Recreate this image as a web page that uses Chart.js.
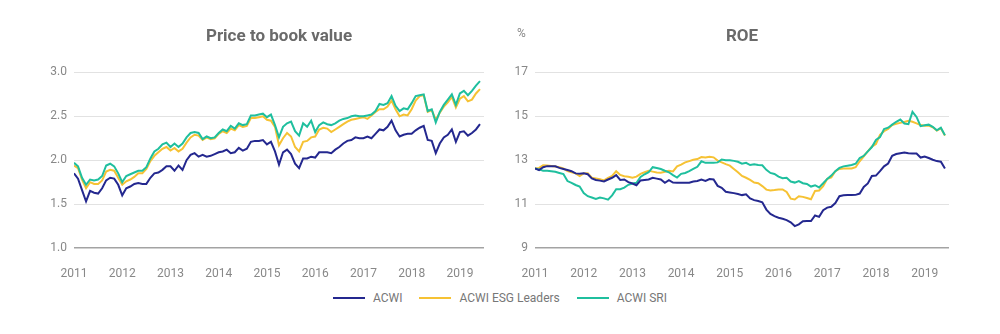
<!DOCTYPE html>
<html>
<head>
<meta charset="utf-8">
<script src="https://cdn.jsdelivr.net/npm/chart.js@4/dist/chart.umd.min.js"></script>
<style>
  body { margin: 0; background: #fff; font-family: Roboto, sans-serif; }
  #wrap { position: relative; width: 1000px; height: 334px; }
  canvas { position: absolute; top: 0; }
  #pb { left: 0; }
  #roe { left: 500px; }
  #pct { position: absolute; left: 517px; top: 26px; font-size: 12px; color: #888; }
  #legend { position: absolute; left: 0; width: 1000px; top: 291px; display: flex; justify-content: center; gap: 17px; font-size: 12px; color: #777; }
  #legend span.item { display: flex; align-items: center; }
  #legend i { display: inline-block; width: 32px; height: 2px; margin-right: 8px; }
</style>
</head>
<body>
<div id="wrap">
  <canvas id="pb" width="500" height="290"></canvas>
  <canvas id="roe" width="500" height="290"></canvas>
  <div id="pct">%</div>
  <div id="legend"></div>
</div>
<script>
// monthly, Jan 2011 - Jun 2019
const years = [2011, 2012, 2013, 2014, 2015, 2016, 2017, 2018, 2019];
const seriesNames = ['ACWI', 'ACWI ESG Leaders', 'ACWI SRI'];
const seriesColors = ['#24288f', '#f6c234', '#1fbf9e'];

const pbAcwi = [
  1.85, 1.79, 1.66, 1.53, 1.65, 1.63, 1.62, 1.68, 1.77, 1.80,
  1.79, 1.72, 1.60, 1.68, 1.70, 1.73, 1.74, 1.73, 1.73, 1.80,
  1.85, 1.86, 1.89, 1.93, 1.93, 1.88, 1.94, 1.89, 2.00, 2.06,
  2.08, 2.04, 2.06, 2.04, 2.05, 2.07, 2.09, 2.10, 2.12, 2.08,
  2.09, 2.14, 2.11, 2.13, 2.21, 2.22, 2.22, 2.23, 2.18, 2.21,
  2.10, 1.95, 2.09, 2.12, 2.07, 1.96, 1.91, 2.02, 2.02, 2.04,
  2.03, 2.09, 2.09, 2.09, 2.08, 2.12, 2.15, 2.19, 2.22, 2.23,
  2.26, 2.25, 2.25, 2.27, 2.25, 2.30, 2.35, 2.34, 2.38, 2.45,
  2.34, 2.27, 2.29, 2.30, 2.30, 2.34, 2.37, 2.39, 2.23, 2.22,
  2.08, 2.19, 2.26, 2.29, 2.35, 2.21, 2.32, 2.33, 2.28, 2.31,
  2.35, 2.41
];
const pbEsg = [
  1.94, 1.91, 1.78, 1.68, 1.75, 1.73, 1.73, 1.77, 1.87, 1.89,
  1.88, 1.80, 1.72, 1.76, 1.78, 1.81, 1.85, 1.85, 1.90, 1.99,
  2.05, 2.09, 2.13, 2.15, 2.11, 2.14, 2.10, 2.13, 2.20, 2.26,
  2.29, 2.28, 2.23, 2.26, 2.24, 2.25, 2.30, 2.33, 2.31, 2.36,
  2.34, 2.40, 2.38, 2.39, 2.48, 2.48, 2.49, 2.50, 2.46, 2.45,
  2.38, 2.17, 2.25, 2.31, 2.27, 2.15, 2.10, 2.21, 2.22, 2.26,
  2.27, 2.35, 2.37, 2.36, 2.32, 2.35, 2.38, 2.41, 2.44, 2.46,
  2.47, 2.48, 2.49, 2.47, 2.51, 2.55, 2.58, 2.58, 2.61, 2.68,
  2.58, 2.50, 2.52, 2.51, 2.58, 2.68, 2.73, 2.74, 2.55, 2.57,
  2.46, 2.54, 2.61, 2.66, 2.72, 2.60, 2.70, 2.73, 2.67, 2.69,
  2.76, 2.81
];
const pbSri = [
  1.97, 1.93, 1.80, 1.72, 1.78, 1.77, 1.78, 1.82, 1.94, 1.96,
  1.93, 1.85, 1.75, 1.82, 1.84, 1.86, 1.88, 1.88, 1.92, 2.02,
  2.10, 2.13, 2.18, 2.20, 2.15, 2.19, 2.15, 2.19, 2.26, 2.31,
  2.32, 2.31, 2.24, 2.27, 2.25, 2.26, 2.31, 2.35, 2.33, 2.39,
  2.36, 2.42, 2.40, 2.41, 2.51, 2.51, 2.52, 2.53, 2.49, 2.52,
  2.40, 2.26, 2.38, 2.42, 2.44, 2.33, 2.28, 2.42, 2.38, 2.45,
  2.32, 2.40, 2.43, 2.41, 2.40, 2.42, 2.45, 2.47, 2.48, 2.50,
  2.51, 2.50, 2.50, 2.51, 2.52, 2.56, 2.64, 2.63, 2.65, 2.73,
  2.62, 2.56, 2.59, 2.58, 2.65, 2.73, 2.74, 2.75, 2.56, 2.58,
  2.43, 2.55, 2.63, 2.69, 2.75, 2.63, 2.76, 2.79, 2.74, 2.79,
  2.85, 2.90
];

const roeAcwi = [
  12.62, 12.55, 12.68, 12.73, 12.73, 12.72, 12.65, 12.60, 12.55, 12.50,
  12.40, 12.38, 12.40, 12.36, 12.17, 12.10, 12.07, 12.03, 12.12, 12.20,
  12.32, 12.10, 12.12, 12.00, 11.94, 11.86, 12.08, 12.10, 12.12, 12.20,
  12.16, 12.12, 11.97, 12.09, 11.98, 11.97, 11.97, 11.97, 11.97, 12.03,
  12.05, 12.12, 12.06, 12.14, 12.12, 11.83, 11.74, 11.56, 11.53, 11.50,
  11.46, 11.41, 11.45, 11.26, 11.18, 11.14, 11.08, 10.75, 10.55, 10.45,
  10.38, 10.33, 10.27, 10.17, 10.00, 10.08, 10.22, 10.23, 10.23, 10.48,
  10.42, 10.72, 10.84, 10.88, 11.05, 11.36, 11.40, 11.41, 11.41, 11.42,
  11.48, 11.78, 11.94, 12.28, 12.30, 12.50, 12.72, 12.85, 13.20, 13.28,
  13.32, 13.35, 13.32, 13.30, 13.30, 13.12, 13.17, 13.10, 13.02, 12.96,
  12.93, 12.62
];
const roeEsg = [
  12.62, 12.65, 12.77, 12.76, 12.74, 12.71, 12.68, 12.63, 12.50, 12.45,
  12.40, 12.28, 12.40, 12.41, 12.20, 12.17, 12.13, 12.08, 12.20, 12.28,
  12.50, 12.33, 12.27, 12.25, 12.20, 12.25, 12.38, 12.45, 12.52, 12.48,
  12.44, 12.43, 12.47, 12.52, 12.49, 12.72, 12.80, 12.90, 12.96, 13.02,
  13.05, 13.14, 13.12, 13.16, 13.13, 12.98, 12.90, 12.82, 12.75, 12.60,
  12.45, 12.28, 12.20, 12.10, 11.98, 11.95, 11.82, 11.66, 11.62, 11.64,
  11.67, 11.67, 11.55, 11.25, 11.21, 11.36, 11.33, 11.28, 11.22, 11.60,
  11.62, 11.82, 12.15, 12.22, 12.50, 12.60, 12.62, 12.62, 12.62, 12.68,
  12.95, 13.18, 13.40, 13.62, 13.74, 14.15, 14.32, 14.42, 14.60, 14.66,
  14.70, 14.74, 14.80, 14.75, 14.68, 14.60, 14.57, 14.58, 14.50, 14.35,
  14.45, 14.12
];
const roeSri = [
  12.62, 12.58, 12.52, 12.52, 12.50, 12.47, 12.42, 12.37, 12.05, 11.97,
  11.87, 11.80, 11.50, 11.36, 11.30, 11.24, 11.30, 11.26, 11.20, 11.40,
  11.68, 11.68, 11.75, 11.88, 11.94, 11.97, 12.24, 12.36, 12.45, 12.68,
  12.64, 12.60, 12.52, 12.45, 12.32, 12.21, 12.38, 12.42, 12.50, 12.60,
  12.70, 12.95, 12.88, 12.88, 12.88, 12.90, 13.03, 13.00, 13.00, 12.97,
  12.93, 12.84, 12.88, 12.78, 12.82, 12.78, 12.77, 12.56, 12.42, 12.37,
  12.25, 12.18, 12.20, 12.03, 11.98, 12.05, 11.95, 11.92, 11.80, 11.86,
  11.76, 11.95, 12.15, 12.30, 12.50, 12.65, 12.72, 12.75, 12.78, 12.84,
  13.10, 13.20, 13.40, 13.60, 13.92, 14.05, 14.42, 14.48, 14.62, 14.75,
  14.85, 14.67, 14.64, 15.20, 14.97, 14.55, 14.59, 14.62, 14.52, 14.36,
  14.48, 14.14
];

// x position of each month as a fractional year
const months = pbAcwi.map((_, i) => years[0] + i / 12);

Chart.defaults.font.family = 'Roboto, sans-serif';
Chart.defaults.color = '#888';

function lineChart(id, title, series, yMin, yMax, yStep, axisWidth, padRight, decimals) {
  const datasets = series.map((vals, k) => ({
    label: seriesNames[k],
    data: vals.map((v, i) => ({ x: months[i], y: v })),
    borderColor: seriesColors[k],
    borderWidth: 2,
    pointRadius: 0,
    tension: 0,
    order: [0, 2, 1][k]
  }));

  return new Chart(document.getElementById(id), {
    type: 'line',
    data: { datasets: datasets },
    options: {
      responsive: false,
      animation: false,
      layout: { padding: { left: 0, right: padRight, top: 0, bottom: 0 } },
      plugins: {
        legend: { display: false },
        tooltip: { enabled: false },
        title: {
          display: true,
          text: title,
          fullSize: false,
          color: '#6a6a6a',
          font: { size: 17, weight: 'bold' },
          padding: { top: 27, bottom: 25 }
        }
      },
      scales: {
        x: {
          type: 'linear',
          min: years[0],
          max: years[years.length - 1] + 0.5,
          grid: { display: false },
          border: { display: false },
          afterFit: (s) => { s.height = 42; },
          ticks: {
            stepSize: 1,
            includeBounds: false,
            padding: 11,
            maxRotation: 0,
            font: { size: 12 },
            callback: (v) => String(v)
          }
        },
        y: {
          min: yMin,
          max: yMax,
          border: { display: false },
          afterFit: (s) => { s.width = axisWidth; },
          grid: {
            drawTicks: false,
            color: (c) => (c.tick && c.tick.value === yMin ? '#a3a3a3' : '#e2e2e2'),
            lineWidth: (c) => (c.tick && c.tick.value === yMin ? 1.5 : 1)
          },
          ticks: {
            stepSize: yStep,
            padding: 7,
            font: { size: 12 },
            callback: (v) => v.toFixed(decimals)
          }
        }
      }
    }
  });
}

lineChart('pb', 'Price to book value', [pbAcwi, pbEsg, pbSri], 1, 3, 0.5, 74, 16, 1);
lineChart('roe', 'ROE', [roeAcwi, roeEsg, roeSri], 9, 17, 2, 35, 51, 0);

// shared legend under both charts
const legend = document.getElementById('legend');
seriesNames.forEach((name, k) => {
  const item = document.createElement('span');
  item.className = 'item';
  item.innerHTML = '<i style="background:' + seriesColors[k] + '"></i>' + name;
  legend.appendChild(item);
});
</script>
</body>
</html>
